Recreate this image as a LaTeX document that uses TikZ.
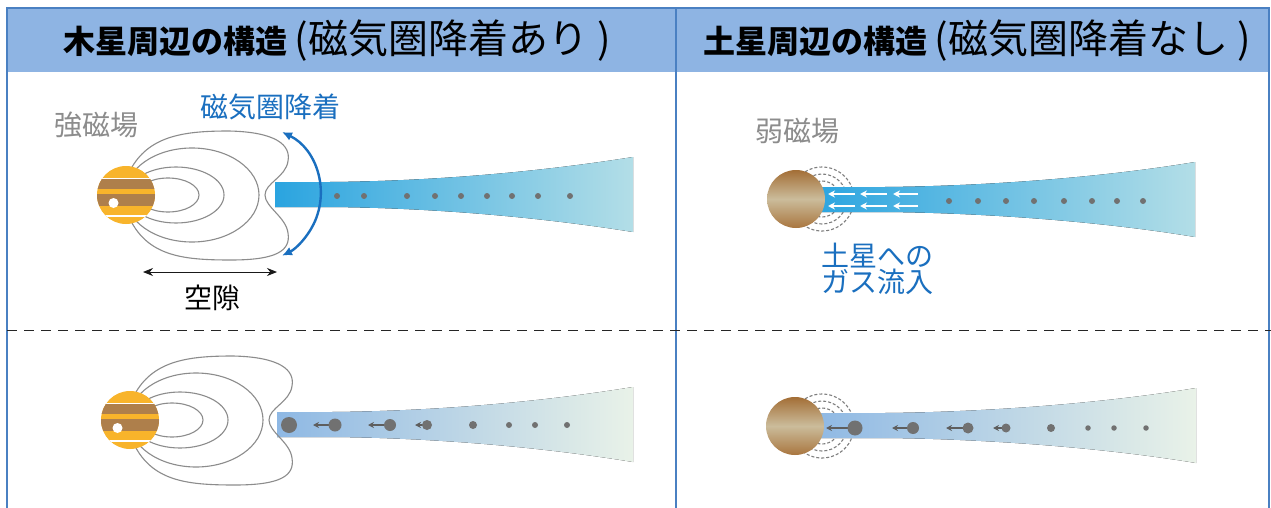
\documentclass[tikz,border=0pt]{standalone}
\usepackage{fontspec}
\setmainfont{Noto Sans CJK JP}
\usetikzlibrary{arrows.meta}

\definecolor{hdrfill}{HTML}{8EB4E3}
\definecolor{frameblue}{HTML}{4A80C2}
\definecolor{accent}{HTML}{1A6FBF}
\definecolor{labelgray}{HTML}{8C8C8C}
\definecolor{fieldgray}{HTML}{8C8C8C}
\definecolor{ringgray}{HTML}{7E7E7E}
\definecolor{dotgray}{HTML}{717171}
\definecolor{arrowgray}{HTML}{5E5E5E}
\definecolor{jorange}{HTML}{F8B42B}
\definecolor{jbrown}{HTML}{AE7F4B}
\definecolor{sbrownA}{HTML}{A36E36}
\definecolor{stan}{HTML}{CBBC9B}
\definecolor{sbrownB}{HTML}{A9763F}
\definecolor{flowA}{HTML}{2AA4E0}
\definecolor{flowB}{HTML}{B3DEE7}
\definecolor{flowC}{HTML}{8EB8E4}
\definecolor{flowD}{HTML}{E9F2E8}

\newcommand\hdrbold{\fontsize{32}{36}\selectfont\bfseries}
\newcommand\hdrreg{\fontsize{40}{42}\selectfont\mdseries}
\newcommand\lblfont{\fontsize{28}{26}\selectfont}

\tikzset{
  fieldline/.style={draw=fieldgray, line width=1.1pt},
  ring/.style={draw=ringgray, line width=1.1pt, dash pattern=on 3pt off 2pt},
  dot/.style={circle, fill=dotgray, inner sep=0pt, minimum size=#1},
  dot/.default=6pt,
  whitearrow/.style={draw=white, line width=1.8pt, -{Stealth[length=7pt,width=7pt]}},
  grayarrow/.style={draw=arrowgray, line width=1.8pt, -{Stealth[length=6pt,width=6pt]}},
  label/.style={inner sep=0pt, font=\lblfont},
  % Jupiter with its dipole field loops, origin at the planet centre
  jupiter/.pic={
    \draw[fieldline] (42,0) ellipse[x radius=31, y radius=17];
    \draw[fieldline] (50,0) ellipse[x radius=48, y radius=28];
    \draw[fieldline] (66,0) ellipse[x radius=67, y radius=47];
    \draw[fieldline] (6,28) .. controls (25,60) and (60,64) .. (103,64)
      .. controls (150,63) and (165,50) .. (162,34)
      .. controls (160,18) and (139,12) .. (139,0)
      .. controls (139,-12) and (160,-22) .. (162,-38)
      .. controls (165,-56) and (150,-65) .. (105,-65)
      .. controls (60,-65) and (25,-62) .. (6,-28);
    \begin{scope}
      \clip (0,0) circle[radius=29];
      \fill[jorange] (-30,-30) rectangle (30,30);
      \fill[white] (-30,15.8) rectangle (30,16.6);
      \fill[jbrown] (-30,6) rectangle (30,15.8);
      \fill[jbrown] (-30,-11) rectangle (30,1);
      \fill[white] (-30,-21.5) rectangle (30,-20);
    \end{scope}
    \fill[white] (-12.5,-8) circle[radius=5];
  },
  % Saturn as a shaded disc, origin at the planet centre
  saturn/.pic={
    \shade[top color=sbrownA, bottom color=sbrownB, middle color=stan]
      (0,0) circle[radius=29];
  }
}

\begin{document}
\begin{tikzpicture}[x=1pt, y=1pt]
\useasboundingbox (0,0) rectangle (1271,-508);
\fill[white] (0,0) rectangle (1271,-508);

% header bands and frame
\fill[hdrfill] (7,-8) rectangle (1269,-72);
\draw[frameblue, line width=1.3pt] (7,-508) -- (7,-8) -- (1269,-8) -- (1269,-508);
\draw[frameblue, line width=1.3pt] (676,-8) -- (676,-508);
\draw[black!85, line width=1pt, dash pattern=on 10pt off 7pt] (7,-330) -- (1271,-330);

\node[inner sep=0pt, font=\hdrbold] (hdrL) at (337,-41) {木星周辺の構造 {\hdrreg (磁気圏降着あり )}};
\node[inner sep=0pt, font=\hdrbold] (hdrR) at (977,-41) {土星周辺の構造 {\hdrreg (磁気圏降着なし )}};

% ---------- Jupiter, upper panel ----------
\fill[left color=flowA, right color=flowB]
  (275,-182) -- (330,-182) .. controls (440,-181) and (545,-171) .. (633,-157)
  -- (633,-232) .. controls (545,-218) and (440,-208) .. (330,-207) -- (275,-207) -- cycle;
\foreach \x [count=\i] in {337,364,407,435,461,487,512,538,570}
  \node[dot] (jd\i) at (\x,-196) {};
\pic at (126,-195) {jupiter};
\node[label, text=labelgray] (strongB) at (96,-125) {強磁場};
\node[label, text=accent] (accr) at (270,-107) {磁気圏降着};
\coordinate (arcTop) at (282,-132);
\draw[accent, line width=2.4pt, {Latex[length=10pt,width=9pt]}-{Latex[length=10pt,width=9pt]}]
  (arcTop) arc[start angle=64, end angle=-64, radius=68.8];
\coordinate (gapL) at (143,-272);
\coordinate (gapR) at (277,-272);
\draw[black!90, line width=1pt, {Stealth[length=10pt,width=8pt]}-{Stealth[length=10pt,width=8pt]}] (gapL) -- (gapR);
\node[label] (gap) at (212,-298) {空隙};

% ---------- Jupiter, lower panel ----------
\fill[left color=flowC, right color=flowD]
  (277,-412) -- (332,-412) .. controls (442,-411) and (547,-401) .. (633,-387)
  -- (633,-462) .. controls (547,-448) and (442,-438) .. (332,-437) -- (277,-437) -- cycle;
\pic at (130,-420) {jupiter};
\node[dot=16pt] (jb1) at (289,-425) {};
\draw[grayarrow] (335,-425) -- (313,-425);
\node[dot=13pt] (jb2) at (335,-425) {};
\draw[grayarrow] (390,-425) -- (368,-425);
\node[dot=12pt] (jb3) at (390,-425) {};
\draw[grayarrow] (427,-425) -- (415,-425);
\node[dot=10pt] (jb4) at (427,-425) {};
\node[dot=8pt] (jb5) at (473,-425) {};
\foreach \x [count=\i from 6] in {509,535,567}
  \node[dot=6pt] (jb\i) at (\x,-425) {};

% ---------- Saturn, upper panel ----------
\foreach \r in {18,25,32} \draw[ring] (822,-199) circle[radius=\r];
\fill[left color=flowA, right color=flowB]
  (812,-187) -- (885,-187) .. controls (990,-186) and (1105,-177) .. (1195,-162)
  -- (1195,-237) .. controls (1105,-222) and (990,-213) .. (885,-212) -- (812,-212) -- cycle;
\foreach \y in {-194,-206} {
  \draw[whitearrow] (855,\y) -- (828,\y);
  \draw[whitearrow] (887,\y) -- (860,\y);
  \draw[whitearrow] (918,\y) -- (893,\y);
}
\foreach \x [count=\i] in {949,978,1006,1034,1064,1092,1117,1143}
  \node[dot] (sd\i) at (\x,-201) {};
\pic at (796,-199) {saturn};
\node[label, text=labelgray] (weakB) at (797,-131) {弱磁場};
\node[label, text=accent, anchor=north west, align=left] (inflow) at (821,-243) {土星への\\ガス流入};

% ---------- Saturn, lower panel ----------
\foreach \r in {18,25,32} \draw[ring] (822,-426) circle[radius=\r];
\fill[left color=flowC, right color=flowD]
  (812,-413) -- (885,-413) .. controls (990,-412) and (1105,-403) .. (1196,-388)
  -- (1196,-463) .. controls (1105,-448) and (990,-439) .. (885,-438) -- (812,-438) -- cycle;
\pic at (795,-426) {saturn};
\draw[grayarrow] (855,-428) -- (826,-428);
\node[dot=15pt] (sb1) at (855,-428) {};
\draw[grayarrow] (913,-428) -- (892,-428);
\node[dot=12pt] (sb2) at (913,-428) {};
\draw[grayarrow] (968,-428) -- (946,-428);
\node[dot=11pt] (sb3) at (968,-428) {};
\draw[grayarrow] (1006,-428) -- (993,-428);
\node[dot=9pt] (sb4) at (1006,-428) {};
\node[dot=8pt] (sb5) at (1051,-428) {};
\foreach \x [count=\i from 6] in {1088,1114,1146}
  \node[dot=5.5pt] (sb\i) at (\x,-428) {};
\end{tikzpicture}
\end{document}
